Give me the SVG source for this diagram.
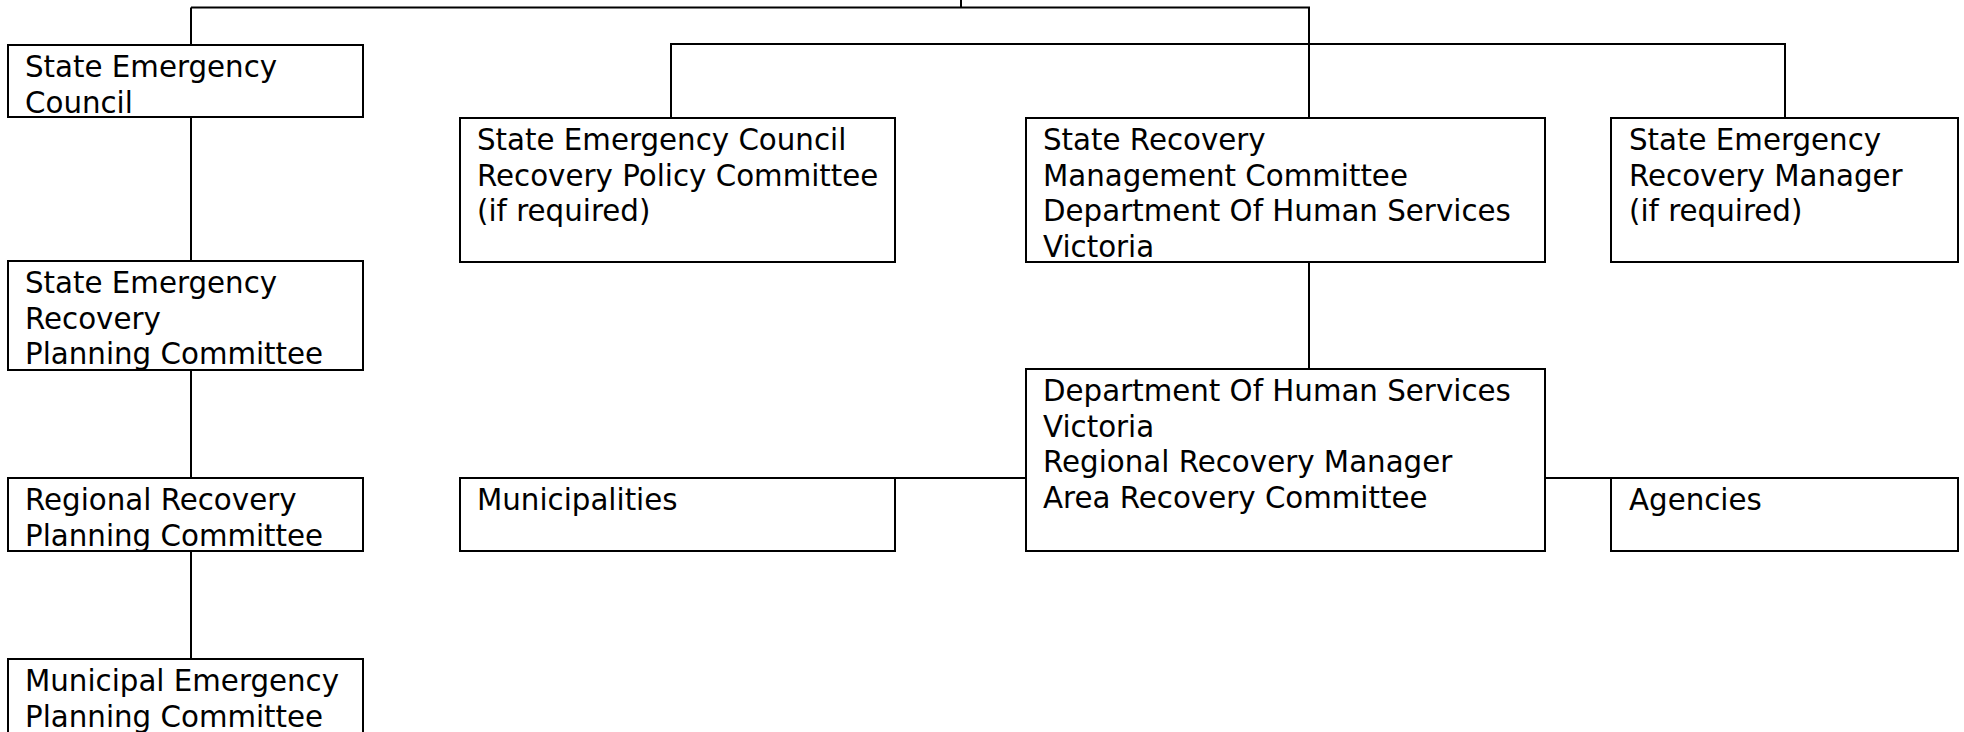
<svg xmlns="http://www.w3.org/2000/svg" width="1964" height="732" viewBox="0 0 1964 732">
<style>
.box{fill:#fff;stroke:#000;stroke-width:2}
.c{fill:none;stroke:#000;stroke-width:2}
text{font-family:"DejaVu Sans",Verdana,sans-serif;font-size:29.3px;fill:#000}
</style>
<rect width="1964" height="732" fill="#fff"/>
<g id="connectors">
<path class="c" d="M961,0V7.5M191,7.5H1309V118M191,7.5V45M671,118V44H1785V118"/>
<path class="c" d="M191,117V261M191,370V478M191,551V659"/>
<path class="c" d="M1309,262V369M895,478H1026M1545,478H1611"/>
</g>
<g id="sec">
<rect class="box" x="8" y="45" width="355" height="72"/>
<text x="25" y="77">State Emergency</text>
<text x="25" y="112.5">Council</text>
</g>
<g id="secrpc">
<rect class="box" x="460" y="118" width="435" height="144"/>
<text x="477" y="150">State Emergency Council</text>
<text x="477" y="185.5">Recovery Policy Committee</text>
<text x="477" y="221">(if required)</text>
</g>
<g id="srmc">
<rect class="box" x="1026" y="118" width="519" height="144"/>
<text x="1043" y="150">State Recovery</text>
<text x="1043" y="185.5">Management Committee</text>
<text x="1043" y="221">Department Of Human Services</text>
<text x="1043" y="256.5">Victoria</text>
</g>
<g id="serm">
<rect class="box" x="1611" y="118" width="347" height="144"/>
<text x="1629" y="150">State Emergency</text>
<text x="1629" y="185.5">Recovery Manager</text>
<text x="1629" y="221">(if required)</text>
</g>
<g id="serpc">
<rect class="box" x="8" y="261" width="355" height="109"/>
<text x="25" y="293">State Emergency</text>
<text x="25" y="328.5">Recovery</text>
<text x="25" y="364">Planning Committee</text>
</g>
<g id="dhs">
<rect class="box" x="1026" y="369" width="519" height="182"/>
<text x="1043" y="401">Department Of Human Services</text>
<text x="1043" y="436.5">Victoria</text>
<text x="1043" y="472">Regional Recovery Manager</text>
<text x="1043" y="507.5">Area Recovery Committee</text>
</g>
<g id="rrpc">
<rect class="box" x="8" y="478" width="355" height="73"/>
<text x="25" y="510">Regional Recovery</text>
<text x="25" y="545.5">Planning Committee</text>
</g>
<g id="municipalities">
<rect class="box" x="460" y="478" width="435" height="73"/>
<text x="477" y="510">Municipalities</text>
</g>
<g id="agencies">
<rect class="box" x="1611" y="478" width="347" height="73"/>
<text x="1629" y="510">Agencies</text>
</g>
<g id="mepc">
<rect class="box" x="8" y="659" width="355" height="90"/>
<text x="25" y="691">Municipal Emergency</text>
<text x="25" y="726.5">Planning Committee</text>
</g>
</svg>
